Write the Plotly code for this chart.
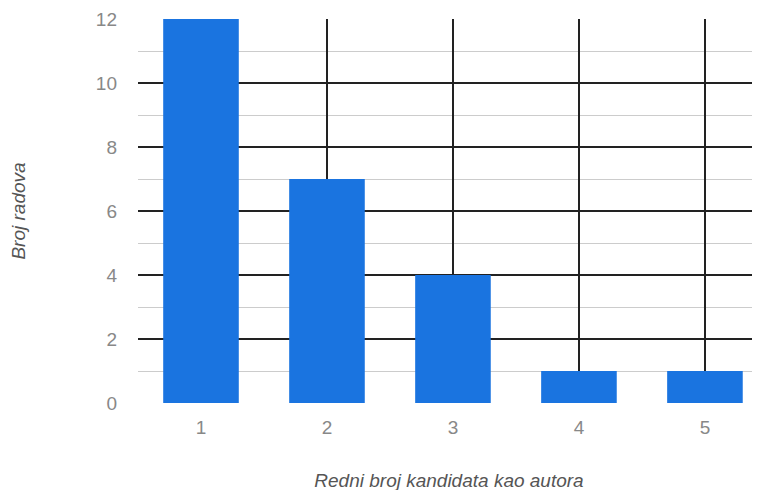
import plotly.graph_objects as go

categories = ["1", "2", "3", "4", "5"]
values = [12, 7, 4, 1, 1]
y_ticks = [0, 2, 4, 6, 8, 10, 12]

fig = go.Figure()
fig.add_trace(go.Bar(x=[1, 2, 3, 4, 5], y=values, marker=dict(color="#1a74e0", line=dict(width=0)),
                     width=0.6))

fig.update_layout(
    width=760, height=490,
    margin=dict(l=130, r=8, t=11, b=95, pad=0),
    paper_bgcolor="white", plot_bgcolor="white",
    font=dict(family="Liberation Sans, Arial, sans-serif", color="#888888", size=19),
    showlegend=False,
)
fig.update_xaxes(
    range=[0.5, 5.437], tickvals=[1, 2, 3, 4, 5], ticktext=categories,
    showgrid=True, gridcolor="#222222", gridwidth=1.5, automargin=False,
    zeroline=False, showline=False, ticks="", ticklabelstandoff=11,
    title=dict(text="Redni broj kandidata kao autora", font=dict(size=19, color="#555555", style="italic"), standoff=36),
)
fig.update_yaxes(
    range=[0, 12], tickvals=y_ticks, showgrid=True, gridcolor="#222222", gridwidth=2,
    minor=dict(dtick=1, showgrid=True, gridcolor="#cccccc", gridwidth=1), automargin=False,
    zeroline=False, showline=False, ticks="", ticklabelstandoff=20,
    title=dict(text="Broj radova", font=dict(size=19, color="#555555", style="italic"), standoff=70),
)
fig.write_html("out.html")
